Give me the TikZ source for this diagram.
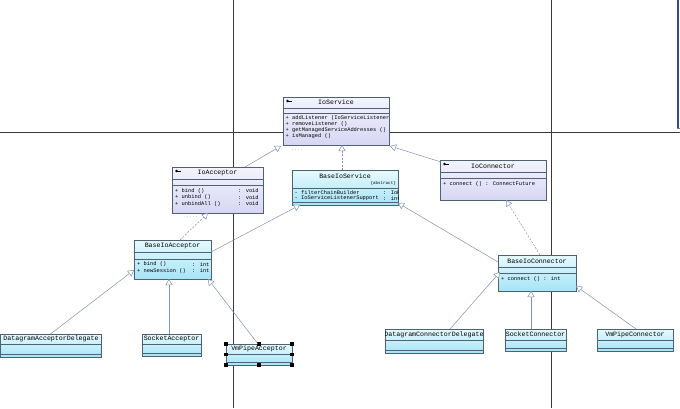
\documentclass[tikz,border=0pt]{standalone}
\usepackage{fontspec}
\newfontfamily\mono{Liberation Mono}
\usetikzlibrary{arrows.meta,calc}
\definecolor{ifaceTop}{HTML}{F4F4FE}
\definecolor{ifaceBot}{HTML}{D6D6F4}
\definecolor{clsTop}{HTML}{E6FAFE}
\definecolor{clsBot}{HTML}{A6E4F6}
\definecolor{boxBorder}{HTML}{4E6276}
\definecolor{conn}{HTML}{8494AC}
\definecolor{gridc}{HTML}{3A3A3A}
\definecolor{winblue}{HTML}{2A4AA8}
\tikzset{
 iface/.style={draw=boxBorder, line width=0.6pt, top color=ifaceTop, bottom color=ifaceBot, inner sep=0pt, outer sep=0pt},
 cls/.style={draw=boxBorder, line width=0.6pt, top color=clsTop, bottom color=clsBot, inner sep=0pt, outer sep=0pt},
 sep/.style={draw=boxBorder, line width=0.5pt},
 hdr/.style={font=\fontsize{6.6}{7}\mono, inner sep=0pt},
 op/.style={font=\fontsize{5.4}{6}\mono, inner sep=0pt, anchor=west},
 small/.style={font=\fontsize{4.2}{5}\mono, inner sep=0pt},
 dots/.style={font=\fontsize{5}{5}\mono, text=gray!70, inner sep=0pt},
 gen/.style={draw=conn, line width=0.5pt, -{Triangle[length=6pt,width=7pt,fill=white]}},
 real/.style={gen, dash pattern=on 2pt off 1.5pt},
 gridline/.style={draw=gridc, line width=0.7pt},
 handle/.style={fill=black, minimum size=3.5pt, inner sep=0pt, outer sep=0pt},
}
% #1 name, #2 style, #3 x, #4 y, #5 w, #6 h, #7 first line, #8 second line
\newcommand\umlbox[8]{%
  \node[#2, minimum width=#5pt, minimum height=#6pt, anchor=north west] (#1) at (#3,#4) {};
  \draw[sep] ($(#1.north west)+(0,#7)$) -- ($(#1.north east)+(0,#7)$);
  \draw[sep] ($(#1.north west)+(0,#8)$) -- ($(#1.north east)+(0,#8)$);
}
\newcommand\ifaceicon[1]{%
  \fill[black] ($(#1.north west)+(4.5,4)$) circle (1.3pt);
  \draw[black, line width=0.6pt] ($(#1.north west)+(4.5,4)$) -- ($(#1.north west)+(8.5,4)$);
}
\begin{document}
\begin{tikzpicture}[x=1pt,y=-1pt]
\useasboundingbox (0,0) rectangle (680,408);
\fill[white] (0,0) rectangle (680,408);
% page grid
\draw[gridline] (233,0) -- (233,408);
\draw[gridline] (551,0) -- (551,408);
\draw[gridline] (0,132.5) -- (680,132.5);
% window edge top right
\draw[winblue, line width=2pt] (677.5,0) -- (677.5,128);
\draw[gray, line width=0.6pt] (676.5,128.5) -- (680,128.5);

% ---------- boxes ----------
\umlbox{IoService}{iface}{283}{97}{106}{48}{11}{16}
\ifaceicon{IoService}
\node[hdr] (IoServiceT) at ($(IoService.north)+(0,5.5)$) {IoService};
\begin{scope}
\clip (IoService.north west) rectangle (IoService.south east);
\node[op] (IoServiceO1) at ($(IoService.north west)+(2.5,21)$) {+ addListener (IoServiceListener)};
\node[op] (IoServiceO2) at ($(IoService.north west)+(2.5,27)$) {+ removeListener ()};
\node[op] (IoServiceO3) at ($(IoService.north west)+(2.5,33)$) {+ getManagedServiceAddresses ()};
\node[op] (IoServiceO4) at ($(IoService.north west)+(2.5,39)$) {+ isManaged ()};
\end{scope}
\node[dots] (IoServiceD) at ($(IoService.south west)+(14,5)$) {....};

\umlbox{IoAcceptor}{iface}{172}{167}{91}{46}{12}{18}
\ifaceicon{IoAcceptor}
\node[hdr] (IoAcceptorT) at ($(IoAcceptor.north)+(0,6)$) {IoAcceptor};
\node[op] (IoAcceptorO1) at ($(IoAcceptor.north west)+(3,24)$) {+ bind ()};
\node[op] (IoAcceptorO2) at ($(IoAcceptor.north west)+(3,30.5)$) {+ unbind ()};
\node[op] (IoAcceptorO3) at ($(IoAcceptor.north west)+(3,37)$) {+ unbindAll ()};
\node[op] (IoAcceptorR1) at ($(IoAcceptor.north west)+(66,24)$) {: void};
\node[op] (IoAcceptorR2) at ($(IoAcceptor.north west)+(66,30.5)$) {: void};
\node[op] (IoAcceptorR3) at ($(IoAcceptor.north west)+(66,37)$) {: void};
\node[dots] (IoAcceptorD) at ($(IoAcceptor.south west)+(20,4)$) {....};

\umlbox{BaseIoService}{cls}{292}{170}{106}{35}{18}{32}
\node[hdr] (BaseIoServiceT) at ($(BaseIoService.north)+(0,6)$) {BaseIoService};
\node[small, anchor=east] (BaseIoServiceA) at ($(BaseIoService.north east)+(-2,13.5)$) {\{abstract\}};
\begin{scope}
\clip (BaseIoService.north west) rectangle (BaseIoService.south east);
\node[op] (BaseIoServiceO1) at ($(BaseIoService.north west)+(2.5,22.5)$) {- filterChainBuilder};
\node[op] (BaseIoServiceO2) at ($(BaseIoService.north west)+(2.5,28.5)$) {- IoServiceListenerSupport};
\node[op] (BaseIoServiceR1) at ($(BaseIoService.north west)+(91,22.5)$) {: IoFilterChainBuilder};
\node[op] (BaseIoServiceR2) at ($(BaseIoService.north west)+(91,28.5)$) {: int};
\end{scope}

\umlbox{IoConnector}{iface}{440}{160}{106}{40}{12}{18}
\ifaceicon{IoConnector}
\node[hdr] (IoConnectorT) at ($(IoConnector.north)+(0,6)$) {IoConnector};
\node[op] (IoConnectorO1) at ($(IoConnector.north west)+(3,24.5)$) {+ connect () : ConnectFuture};

\umlbox{BaseIoAcceptor}{cls}{134}{240}{77}{39}{12}{19}
\node[hdr] (BaseIoAcceptorT) at ($(BaseIoAcceptor.north)+(0,6)$) {BaseIoAcceptor};
\node[op] (BaseIoAcceptorO1) at ($(BaseIoAcceptor.north west)+(3,24.5)$) {+ bind ()};
\node[op] (BaseIoAcceptorO2) at ($(BaseIoAcceptor.north west)+(3,31)$) {+ newSession ()};
\node[op] (BaseIoAcceptorR1) at ($(BaseIoAcceptor.north west)+(58,24.5)$) {: int};
\node[op] (BaseIoAcceptorR2) at ($(BaseIoAcceptor.north west)+(58,31)$) {: int};

\umlbox{BaseIoConnector}{cls}{498}{255}{78}{36}{12}{18}
\node[hdr] (BaseIoConnectorT) at ($(BaseIoConnector.north)+(0,6)$) {BaseIoConnector};
\node[op] (BaseIoConnectorO1) at ($(BaseIoConnector.north west)+(3,24.5)$) {+ connect () : int};

% leaf classes
\umlbox{DatagramAcceptorDelegate}{cls}{0.5}{334}{101}{23}{10}{20}
\node[hdr] (DADT) at ($(DatagramAcceptorDelegate.north)+(0,5.2)$) {DatagramAcceptorDelegate};

\umlbox{SocketAcceptor}{cls}{142}{334}{59}{22}{10}{19}
\node[hdr] (SAT) at ($(SocketAcceptor.north)+(0,5.2)$) {SocketAcceptor};

\umlbox{VmPipeAcceptor}{cls}{226}{344}{66}{21}{10}{18}
\node[hdr] (VPAT) at ($(VmPipeAcceptor.north)+(0,5.2)$) {VmPipeAcceptor};
\foreach \a/\n in {north west/1,north/2,north east/3,west/4,east/5,south west/6,south/7,south east/8}
  \node[handle] (H\n) at (VmPipeAcceptor.\a) {};

\umlbox{DatagramConnectorDelegate}{cls}{385}{329}{98}{24}{11}{21}
\begin{scope}
\clip (DatagramConnectorDelegate.north west) rectangle (DatagramConnectorDelegate.south east);
\node[hdr] (DCDT) at ($(DatagramConnectorDelegate.north)+(0,5.5)$) {DatagramConnectorDelegate};
\end{scope}

\umlbox{SocketConnector}{cls}{505}{329}{61}{22}{11}{19}
\begin{scope}
\clip (SocketConnector.north west) rectangle (SocketConnector.south east);
\node[hdr] (SCT) at ($(SocketConnector.north)+(0,5.5)$) {SocketConnector};
\end{scope}

\umlbox{VmPipeConnector}{cls}{597}{329}{76}{22}{11}{19}
\node[hdr] (VPCT) at ($(VmPipeConnector.north)+(0,5.5)$) {VmPipeConnector};

% ---------- connectors ----------
\draw[gen] ($(IoAcceptor.north west)+(73,0)$) -- ($(IoService.south west)+(-2,1)$);
\draw[real] ($(BaseIoService.north west)+(50,0)$) -- ($(IoService.south west)+(59,0)$);
\draw[gen] ($(IoConnector.north west)+(1,2)$) -- ($(IoService.south east)+(1,1)$);
\draw[real] ($(BaseIoAcceptor.north west)+(46,0)$) -- ($(IoAcceptor.south west)+(36,0)$);
\draw[gen] ($(BaseIoAcceptor.north east)+(0,12)$) -- ($(BaseIoService.south west)+(8,0)$);
\draw[gen] ($(BaseIoConnector.north west)+(0,7)$) -- ($(BaseIoService.south east)+(0,-2)$);
\draw[real] ($(BaseIoConnector.north west)+(42,0)$) -- ($(IoConnector.south west)+(66,0)$);
\draw[gen] ($(DatagramAcceptorDelegate.north west)+(50,0)$) -- ($(BaseIoAcceptor.south west)+(0,-9)$);
\draw[gen] ($(SocketAcceptor.north west)+(27,0)$) -- ($(BaseIoAcceptor.south west)+(35,0)$);
\draw[gen] ($(VmPipeAcceptor.north west)+(32,0)$) -- ($(BaseIoAcceptor.south east)+(-3,0)$);
\draw[gen] ($(DatagramConnectorDelegate.north west)+(65,0)$) -- ($(BaseIoConnector.south west)+(2,-19)$);
\draw[gen] ($(SocketConnector.north west)+(26,0)$) -- ($(BaseIoConnector.south west)+(33,0)$);
\draw[gen] ($(VmPipeConnector.north west)+(39,0)$) -- ($(BaseIoConnector.south east)+(0,-5)$);
\end{tikzpicture}
\end{document}
